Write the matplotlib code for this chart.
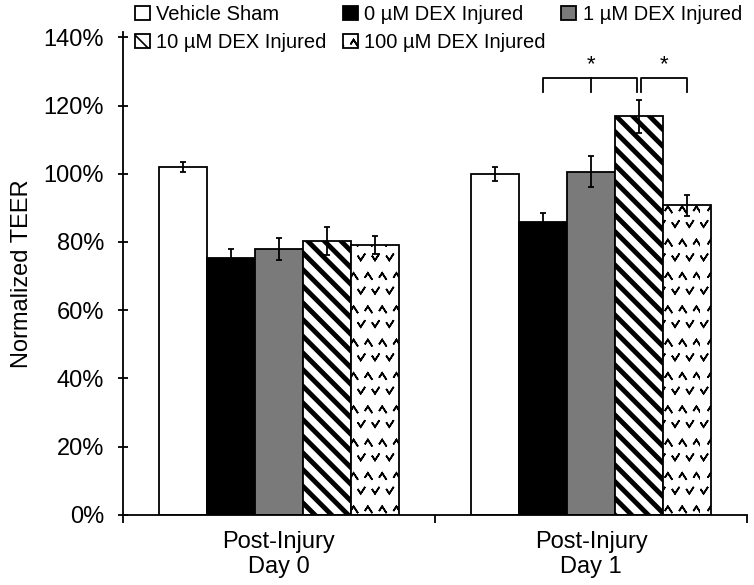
import matplotlib
matplotlib.use("Agg")
import matplotlib.pyplot as plt
import matplotlib.hatch as mhatch
from matplotlib.path import Path
import numpy as np
import warnings

warnings.filterwarnings("ignore")
plt.rcParams['font.family'] = ['Liberation Sans', 'DejaVu Sans']


class ChevronHatch(mhatch.HatchPatternBase):
    """Rows of small open 'v' and '^' marks, triggered by the 'v' hatch character."""
    def __init__(self, hatch, density):
        k = hatch.count('v')
        self.nrows = 6 * k
        self.ncols = 7 * k
        self.num_vertices = self.nrows * self.ncols * 5

    def set_vertices_and_codes(self, vertices, codes):
        w, h = 0.026, 0.02
        verts = []
        cds = []
        for r in range(self.nrows):
            y = (r + 0.5) / self.nrows
            shift = 0.5 / self.ncols if r % 2 else 0.0
            sign = 1 if r % 2 == 0 else -1
            for c in range(self.ncols):
                x0 = ((c + 0.25) / self.ncols + shift) % 1.0
                a = (x0 - w, y + sign * h)
                b = (x0, y - sign * h)
                cc = (x0 + w, y + sign * h)
                verts += [a, b, cc, b, a]
                cds += [Path.MOVETO, Path.LINETO, Path.LINETO, Path.LINETO, Path.LINETO]
        vertices[:] = np.array(verts)
        codes[:] = np.array(cds)


mhatch._hatch_types.append(ChevronHatch)

categories = ["Post-Injury\nDay 0", "Post-Injury\nDay 1"]
series = ["Vehicle Sham", "0 \u00b5M DEX Injured", "1 \u00b5M DEX Injured",
          "10 \u00b5M DEX Injured", "100 \u00b5M DEX Injured"]
values = {
    "Vehicle Sham": [102.0, 100.0],
    "0 \u00b5M DEX Injured": [75.3, 85.8],
    "1 \u00b5M DEX Injured": [77.9, 100.6],
    "10 \u00b5M DEX Injured": [80.3, 116.8],
    "100 \u00b5M DEX Injured": [79.0, 90.7],
}
errors = {
    "Vehicle Sham": [1.4, 2.0],
    "0 \u00b5M DEX Injured": [2.6, 2.6],
    "1 \u00b5M DEX Injured": [3.2, 4.6],
    "10 \u00b5M DEX Injured": [4.0, 4.8],
    "100 \u00b5M DEX Injured": [2.6, 3.1],
}
yticks = [0, 20, 40, 60, 80, 100, 120, 140]
# significance brackets on Day 1: (series indices spanned, middle tick index or None, height)
sig_brackets = [((1, 3), 2, 128.2), ((3, 4), None, 128.2)]

styles = [
    dict(facecolor="white", hatch=None, hlw=1.0, hc="black"),
    dict(facecolor="black", hatch=None, hlw=1.0, hc="black"),
    dict(facecolor="#7a7a7a", hatch=None, hlw=1.0, hc="black"),
    dict(facecolor="white", hatch="\\\\", hlw=3.5, hc="black"),
    dict(facecolor="white", hatch="v", hlw=1.2, hc="#333333"),
]

fig = plt.figure(figsize=(7.54, 5.85), dpi=100)
ax = fig.add_axes([0.163, 0.12, 0.828, 0.825])

n = len(series)
width = 0.154
x = np.arange(len(categories)) + 0.5
pos = {}
handles = []
for i, s in enumerate(series):
    xs = x + (i - (n - 1) / 2) * width
    pos[i] = xs
    st = styles[i]
    plt.rcParams['hatch.linewidth'] = st["hlw"]
    plt.rcParams['hatch.color'] = st["hc"]
    bars = ax.bar(xs, values[s], width, color=st["facecolor"], edgecolor="black",
                  linewidth=1.3, hatch=st["hatch"], label=s, zorder=2)
    for b in bars:
        if hasattr(b, "set_hatch_linewidth"):
            b.set_hatch_linewidth(st["hlw"])
    handles.append(bars)
    ax.errorbar(xs, values[s], yerr=errors[s], fmt="none", ecolor="black",
                elinewidth=1.3, capsize=2.5, capthick=1.3, zorder=3)

# significance brackets (Day 1)
drop = 4.3
for (a, b), mid, h in sig_brackets:
    xa = pos[a][1]
    xb = pos[b][1]
    if a == 3:
        xa += 0.007
    if b == 3:
        xb -= 0.007
    ax.plot([xa, xa, xb, xb], [h - drop, h, h, h - drop], color="black", lw=1.3,
            clip_on=False, zorder=4)
    if mid is not None:
        xm = pos[mid][1]
        ax.plot([xm, xm], [h, h - drop], color="black", lw=1.3, clip_on=False)
        xs_star = xm
    else:
        xs_star = (xa + xb) / 2
    ax.text(xs_star, h + 0.8, "*", ha="center", va="bottom", fontsize=16)

ax.set_xlim(0, 2)
ax.set_ylim(0, 141.5)
ax.set_yticks(yticks)
ax.set_yticklabels([f"{t}%" for t in yticks], fontsize=17)
ax.set_xticks([0, 1, 2])
ax.set_xticklabels([])
ax.set_xticks(x, minor=True)
ax.set_xticklabels(categories, minor=True, fontsize=17, linespacing=1.15)
ax.tick_params(axis="x", which="minor", length=0, pad=12)
ax.tick_params(axis="x", which="major", direction="out", length=6, width=1.3)
ax.tick_params(axis="y", direction="inout", length=7, width=1.3, pad=10)
for sp in ["top", "right"]:
    ax.spines[sp].set_visible(False)
for sp in ["left", "bottom"]:
    ax.spines[sp].set_linewidth(1.3)
ax.set_ylabel("Normalized TEER", fontsize=17, labelpad=8)

order = [0, 3, 1, 4, 2]
leg = fig.legend([handles[k] for k in order], [series[k] for k in order],
                 loc="upper left", bbox_to_anchor=(0.163, 1.012),
                 ncol=3, frameon=False, fontsize=14.5, handlelength=0.75,
                 handleheight=0.75, handletextpad=0.3, columnspacing=0.8,
                 labelspacing=0.45, borderaxespad=0.2)

fig.savefig("out.png", dpi=100)
